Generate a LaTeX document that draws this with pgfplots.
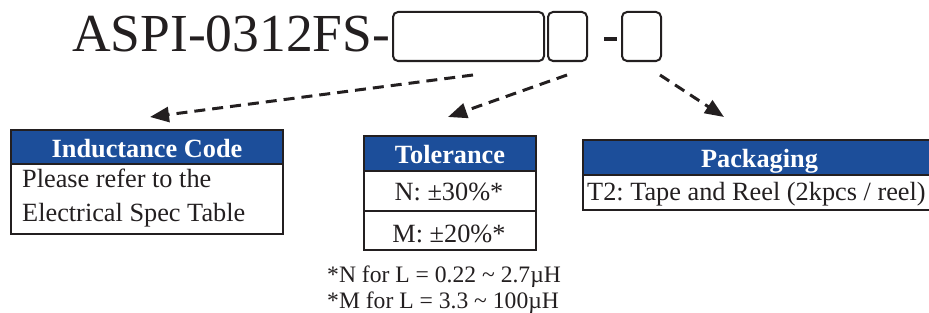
\documentclass[border=0pt]{standalone}
\usepackage{pgfplots}
\pgfplotsset{compat=1.18}
\usepackage{fontspec}
\setmainfont{Liberation Serif}
\usetikzlibrary{arrows.meta}
\definecolor{hdr}{RGB}{28,78,154}
\definecolor{ink}{RGB}{35,31,32}
\newcommand{\fs}[1]{\fontsize{#1bp}{#1bp}\selectfont\frenchspacing}
\begin{document}
\frenchspacing
\begin{tikzpicture}
\begin{axis}[width=929bp,height=313bp,scale only axis,
  xmin=0,xmax=929,ymin=0,ymax=313,y dir=reverse,hide axis,clip=true]
% title
\node[anchor=base west,inner sep=0,text=ink,font=\fs{53.5}] at (72,51) {ASPI-0312FS-};
\draw[ink,line width=2bp,rounded corners=5bp] (393,12) rectangle (544,61);
\draw[ink,line width=2bp,rounded corners=5bp] (548,12) rectangle (587,61);
\draw[ink,line width=2bp,rounded corners=5bp] (622,12) rectangle (661,61);
\fill[ink] (604,37) rectangle (617,41);
% arrows
\draw[ink,line width=3bp,dash pattern=on 11bp off 7bp,-{Triangle[length=19bp,width=15bp]}] (473,75) -- (150,117);
\draw[ink,line width=3bp,dash pattern=on 11bp off 7bp,-{Triangle[length=19bp,width=15bp]}] (567,75) -- (448,117);
\draw[ink,line width=3bp,dash pattern=on 11bp off 7bp,-{Triangle[length=19bp,width=15bp]}] (660,75) -- (724,117);
% Inductance code box
\fill[hdr] (10.5,130) rectangle (283,164);
\draw[ink,line width=2bp] (10.5,130) rectangle (283,234);
\draw[ink,line width=2bp] (10.5,164) -- (283,164);
\node[anchor=base,inner sep=0,text=white,font=\fs{26.3}\bfseries] at (147,157) {Inductance Code};
\node[anchor=base west,inner sep=0,text=ink,font=\fs{26.3}] at (22,187) {Please refer to the};
\node[anchor=base west,inner sep=0,text=ink,font=\fs{26.3}] at (22,221) {Electrical Spec Table};
% Tolerance box
\fill[hdr] (364,136) rectangle (536,171);
\draw[ink,line width=2bp] (364,136) rectangle (536,250);
\draw[ink,line width=2bp] (364,171) -- (536,171);
\draw[ink,line width=2bp] (364,211) -- (536,211);
\node[anchor=base,inner sep=0,text=white,font=\fs{26.3}\bfseries] at (450,163) {Tolerance};
\node[anchor=base,inner sep=0,text=ink,font=\fs{26.3}] at (449,200) {N: ±30\%*};
\node[anchor=base,inner sep=0,text=ink,font=\fs{26.3}] at (449,242) {M: ±20\%*};
% notes
\node[anchor=base west,inner sep=0,text=ink,font=\fs{23.6}] at (327,282) {*N for L = 0.22 \textasciitilde{} 2.7µH};
\node[anchor=base west,inner sep=0,text=ink,font=\fs{23.6}] at (327,308) {*M for L = 3.3 \textasciitilde{} 100µH};
% Packaging box
\fill[hdr] (583,140) rectangle (945,175);
\draw[ink,line width=2bp] (583,140) rectangle (945,210);
\draw[ink,line width=2bp] (583,175) -- (945,175);
\node[anchor=base,inner sep=0,text=white,font=\fs{26.3}\bfseries] at (759.5,167) {Packaging};
\node[anchor=base west,inner sep=0,text=ink,font=\fs{26.3}] at (587,200) {T2: Tape and Reel (2kpcs / reel)};
\end{axis}
\pgfresetboundingbox
\path (current axis.south west) rectangle (current axis.north east);
\end{tikzpicture}
\end{document}
